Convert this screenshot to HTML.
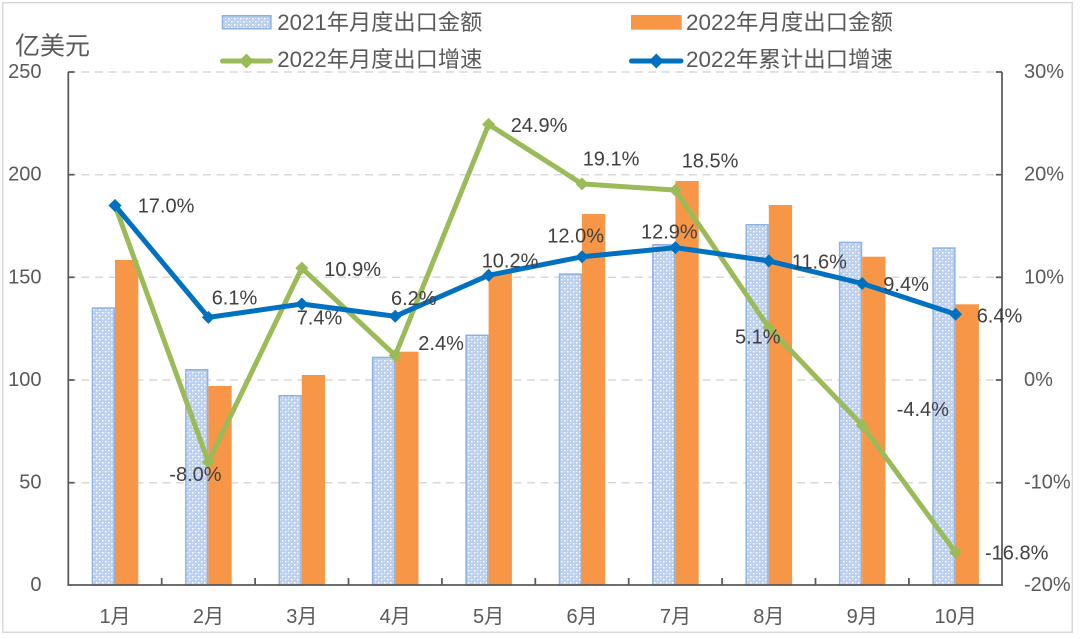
<!DOCTYPE html>
<html><head><meta charset="utf-8">
<style>
html,body{margin:0;padding:0;background:#fff;}
svg{display:block;}
text{font-family:"Liberation Sans","Noto Sans CJK SC",sans-serif;}
</style></head><body>
<svg width="1080" height="639" viewBox="0 0 1080 639" xmlns="http://www.w3.org/2000/svg">
<defs>
<pattern id="dots" width="6" height="6" patternUnits="userSpaceOnUse">
<rect width="6" height="6" fill="#BCD0EE"/>
<rect x="0" y="0" width="1.5" height="1.5" fill="#fff"/>
<rect x="3" y="3" width="1.5" height="1.5" fill="#fff"/>
<rect x="3" y="0" width="1" height="1" fill="#E4ECF8"/>
<rect x="0" y="3" width="1" height="1" fill="#E4ECF8"/>
</pattern>
<path id="dm" d="M0,-6.5 L6.5,0 L0,6.5 L-6.5,0Z"/>
<path id="dl" d="M0,-7.5 L7.5,0 L0,7.5 L-7.5,0Z"/>
</defs>
<rect x="0" y="0" width="1080" height="639" fill="#fff"/>
<rect x="2.75" y="2.75" width="1069.5" height="629.5" fill="none" stroke="#D9D9D9" stroke-width="1.5"/>

<!-- gridlines -->
<g stroke="#D9D9D9" stroke-width="1.5" stroke-dasharray="8 5.5" fill="none">
<line x1="68" y1="72" x2="1002" y2="72"/>
<line x1="68" y1="174.7" x2="1002" y2="174.7"/>
<line x1="68" y1="277.3" x2="1002" y2="277.3"/>
<line x1="68" y1="380" x2="1002" y2="380"/>
<line x1="68" y1="482.7" x2="1002" y2="482.7"/>
</g>

<!-- 2021 bars -->
<g fill="url(#dots)" stroke="#8DB3E2" stroke-width="1.5">
<rect x="92.45" y="308.05" width="21.8" height="276.95"/>
<rect x="185.85" y="369.75" width="21.8" height="215.25"/>
<rect x="279.25" y="395.75" width="21.8" height="189.25"/>
<rect x="372.65" y="357.45" width="21.8" height="227.55"/>
<rect x="466.05" y="335.25" width="21.8" height="249.75"/>
<rect x="559.45" y="274.05" width="21.8" height="310.95"/>
<rect x="652.85" y="244.75" width="21.8" height="340.25"/>
<rect x="746.25" y="224.75" width="21.8" height="360.25"/>
<rect x="839.65" y="242.45" width="21.8" height="342.55"/>
<rect x="933.05" y="248.05" width="21.8" height="336.95"/>
</g>
<!-- 2022 bars -->
<g fill="#F79646">
<rect x="115" y="260" width="23.3" height="325"/>
<rect x="208.4" y="386" width="23.3" height="199"/>
<rect x="301.8" y="375" width="23.3" height="210"/>
<rect x="395.2" y="351.7" width="23.3" height="233.3"/>
<rect x="488.6" y="272" width="23.3" height="313"/>
<rect x="582" y="214" width="23.3" height="371"/>
<rect x="675.4" y="181" width="23.3" height="404"/>
<rect x="768.8" y="205" width="23.3" height="380"/>
<rect x="862.2" y="256.7" width="23.3" height="328.3"/>
<rect x="955.6" y="304.3" width="23.3" height="280.7"/>
</g>

<!-- axes -->
<g stroke="#595959" stroke-width="1.75" fill="none">
<line x1="68.3" y1="72" x2="68.3" y2="585.8"/>
<line x1="1002" y1="72" x2="1002" y2="585.8"/>
<line x1="67.5" y1="585" x2="1002.8" y2="585"/>
<line x1="68.3" y1="72" x2="74.5" y2="72"/>
<line x1="68.3" y1="174.7" x2="74.5" y2="174.7"/>
<line x1="68.3" y1="277.3" x2="74.5" y2="277.3"/>
<line x1="68.3" y1="380" x2="74.5" y2="380"/>
<line x1="68.3" y1="482.7" x2="74.5" y2="482.7"/>
<line x1="995.8" y1="72" x2="1002" y2="72"/>
<line x1="995.8" y1="174.7" x2="1002" y2="174.7"/>
<line x1="995.8" y1="277.3" x2="1002" y2="277.3"/>
<line x1="995.8" y1="380" x2="1002" y2="380"/>
<line x1="995.8" y1="482.7" x2="1002" y2="482.7"/>
<line x1="161.7" y1="578" x2="161.7" y2="585"/>
<line x1="255.1" y1="578" x2="255.1" y2="585"/>
<line x1="348.5" y1="578" x2="348.5" y2="585"/>
<line x1="441.9" y1="578" x2="441.9" y2="585"/>
<line x1="535.3" y1="578" x2="535.3" y2="585"/>
<line x1="628.7" y1="578" x2="628.7" y2="585"/>
<line x1="722.1" y1="578" x2="722.1" y2="585"/>
<line x1="815.5" y1="578" x2="815.5" y2="585"/>
<line x1="908.9" y1="578" x2="908.9" y2="585"/>
</g>

<!-- green line -->
<polyline fill="none" stroke="#9BBB59" stroke-width="5" stroke-linejoin="round" points="115,205.5 208.4,462.1 301.8,268.1 395.2,355.4 488.6,124.4 582,183.9 675.4,190.1 768.8,327.6 862.2,425.2 955.6,552.5"/>
<g fill="#9BBB59">
<use href="#dm" x="115" y="205.5"/><use href="#dm" x="208.4" y="462.1"/><use href="#dm" x="301.8" y="268.1"/><use href="#dm" x="395.2" y="355.4"/><use href="#dm" x="488.6" y="124.4"/><use href="#dm" x="582" y="183.9"/><use href="#dm" x="675.4" y="190.1"/><use href="#dm" x="768.8" y="327.6"/><use href="#dm" x="862.2" y="425.2"/><use href="#dm" x="955.6" y="552.5"/>
</g>
<!-- blue line -->
<polyline fill="none" stroke="#0070C0" stroke-width="5" stroke-linejoin="round" points="115,205.5 208.4,317.4 301.8,304 395.2,316.3 488.6,275.3 582,256.8 675.4,247.6 768.8,260.9 862.2,283.5 955.6,314.3"/>
<g fill="#0070C0">
<use href="#dm" x="115" y="205.5"/><use href="#dm" x="208.4" y="317.4"/><use href="#dm" x="301.8" y="304"/><use href="#dm" x="395.2" y="316.3"/><use href="#dm" x="488.6" y="275.3"/><use href="#dm" x="582" y="256.8"/><use href="#dm" x="675.4" y="247.6"/><use href="#dm" x="768.8" y="260.9"/><use href="#dm" x="862.2" y="283.5"/><use href="#dm" x="955.6" y="314.3"/>
</g>

<!-- data labels -->
<g font-size="20" fill="#404040" dominant-baseline="central">
<text x="137.7" y="206.7">17.0%</text>
<text x="211.7" y="298.3">6.1%</text>
<text x="296.7" y="318.3">7.4%</text>
<text x="391" y="299">6.2%</text>
<text x="481.7" y="261.7">10.2%</text>
<text x="547.3" y="236.7">12.0%</text>
<text x="641" y="232.7">12.9%</text>
<text x="791.7" y="262.7">11.6%</text>
<text x="883.3" y="285">9.4%</text>
<text x="976.7" y="316.7">6.4%</text>
<text x="169.3" y="475">-8.0%</text>
<text x="324.3" y="270">10.9%</text>
<text x="418.3" y="344">2.4%</text>
<text x="510.7" y="126">24.9%</text>
<text x="582.7" y="159.3">19.1%</text>
<text x="681.7" y="161.7">18.5%</text>
<text x="735" y="337.3">5.1%</text>
<text x="896.7" y="410">-4.4%</text>
<text x="985" y="553.3">-16.8%</text>
</g>

<!-- left tick labels -->
<g font-size="20" fill="#595959" dominant-baseline="central" text-anchor="end">
<text x="41.5" y="72">250</text>
<text x="41.5" y="174.7">200</text>
<text x="41.5" y="277.3">150</text>
<text x="41.5" y="380">100</text>
<text x="41.5" y="482.7">50</text>
<text x="41.5" y="585">0</text>
</g>
<!-- right tick labels -->
<g font-size="20" fill="#595959" dominant-baseline="central">
<text x="1024" y="72">30%</text>
<text x="1024" y="174.7">20%</text>
<text x="1024" y="277.3">10%</text>
<text x="1024" y="380">0%</text>
<text x="1024" y="482.7">-10%</text>
<text x="1024" y="585">-20%</text>
</g>
<!-- category labels -->
<g font-size="20" fill="#595959" dominant-baseline="central" text-anchor="middle">
<text x="115" y="617">1月</text>
<text x="208.4" y="617">2月</text>
<text x="301.8" y="617">3月</text>
<text x="395.2" y="617">4月</text>
<text x="488.6" y="617">5月</text>
<text x="582" y="617">6月</text>
<text x="675.4" y="617">7月</text>
<text x="768.8" y="617">8月</text>
<text x="862.2" y="617">9月</text>
<text x="955.6" y="617">10月</text>
</g>

<!-- axis title -->
<text x="15" y="46.5" font-size="25" fill="#595959" dominant-baseline="central" textLength="75" lengthAdjust="spacingAndGlyphs">亿美元</text>

<!-- legend -->
<rect x="222.45" y="15.75" width="48.5" height="13" fill="url(#dots)" stroke="#8DB3E2" stroke-width="1.5"/>
<text x="277.3" y="22.3" font-size="22" fill="#595959" dominant-baseline="central" textLength="205" lengthAdjust="spacingAndGlyphs">2021年月度出口金额</text>
<rect x="631" y="15" width="50.7" height="14.7" fill="#F79646"/>
<text x="686" y="22.3" font-size="22" fill="#595959" dominant-baseline="central" textLength="207" lengthAdjust="spacingAndGlyphs">2022年月度出口金额</text>
<line x1="222.5" y1="61" x2="270.5" y2="61" stroke="#9BBB59" stroke-width="5" stroke-linecap="round"/>
<use href="#dl" x="246.4" y="61" fill="#9BBB59"/>
<text x="277.3" y="59.5" font-size="22" fill="#595959" dominant-baseline="central" textLength="205" lengthAdjust="spacingAndGlyphs">2022年月度出口增速</text>
<line x1="631.5" y1="61" x2="681" y2="61" stroke="#0070C0" stroke-width="5" stroke-linecap="round"/>
<use href="#dl" x="656.3" y="61" fill="#0070C0"/>
<text x="686" y="59.5" font-size="22" fill="#595959" dominant-baseline="central" textLength="207" lengthAdjust="spacingAndGlyphs">2022年累计出口增速</text>
</svg>
</body></html>
